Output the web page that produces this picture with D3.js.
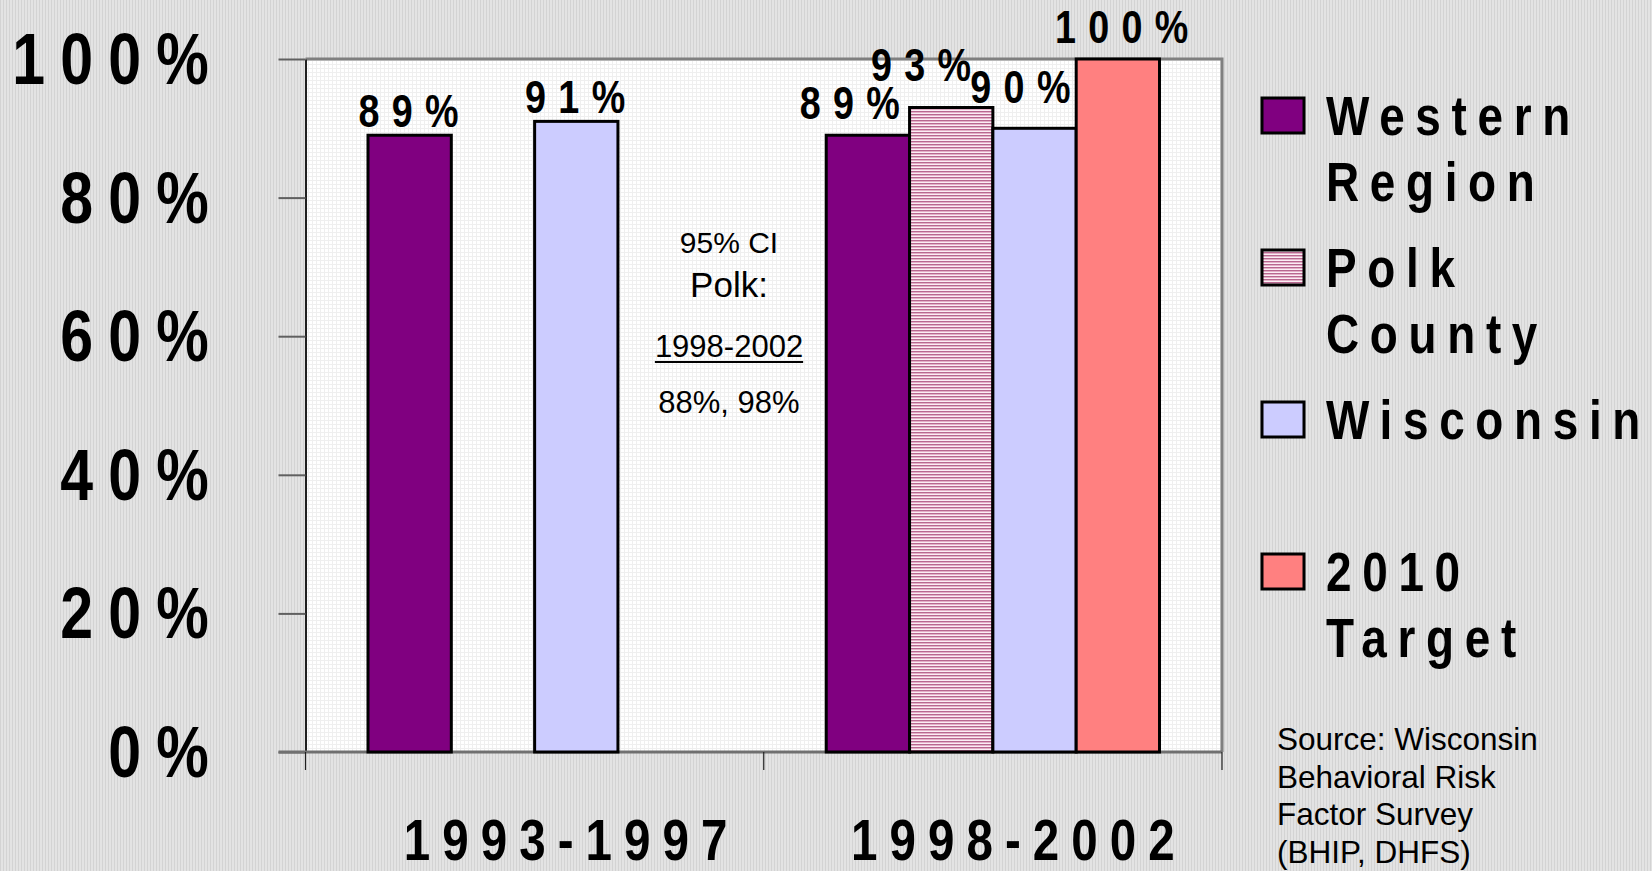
<!DOCTYPE html>
<html>
<head>
<meta charset="utf-8">
<script src="https://cdn.jsdelivr.net/npm/d3@7"></script>
<style>
  body { margin: 0; background: #e0e0e0; }
  svg { display: block; }
</style>
</head>
<body>
<script>
'use strict';

// chart data
const categories = ["1993-1997", "1998-2002"];
const seriesKeys = ["western", "polk", "wisconsin", "target"];
const westernRegion = [89, 89];
const polkCounty = [null, 93];
const wisconsin = [91, 90];
const target2010 = [null, 100];
const yTicks = [0, 20, 40, 60, 80, 100];
const legendLabels = [["Western", "Region"], ["Polk", "County"], ["Wisconsin"], ["2010", "Target"]];
const ciLines = ["95% CI", "Polk:", "1998-2002", "88%, 98%"];
const sourceLines = ["Source: Wisconsin", "Behavioral Risk", "Factor Survey", "(BHIP, DHFS)"];

const seriesValues = {western: westernRegion, polk: polkCounty, wisconsin: wisconsin, target: target2010};
const seriesFill = {western: "#800080", polk: "url(#polkStripes)", wisconsin: "#ccccff", target: "#ff8080"};
// label nudges (dx, lift) used where all four bars stand side by side
const crowdedNudge = {western: [-12, 16], polk: [-24, 27], wisconsin: [-8, 25], target: [10, 16]};
const catLabelShift = [37, 26];

const W = 1652, H = 871;
const SX = 0.82; // narrow bold look
const plot = {left: 305.5, right: 1222, top: 59, bottom: 752};

let svg = d3.select('body').append('svg')
  .attr('width', W)
  .attr('height', H)
  .style('font-family', '"Liberation Sans", Arial, sans-serif');

// patterns
let defs = svg.append('defs');
let bgPat = defs.append('pattern').attr('id', 'bgStripes')
  .attr('patternUnits', 'userSpaceOnUse').attr('width', 3).attr('height', 10);
bgPat.append('rect').attr('width', 3).attr('height', 10).attr('fill', '#e3e3e3');
bgPat.append('rect').attr('width', 1).attr('height', 10).attr('fill', '#d3d3d3');

let gridPat = defs.append('pattern').attr('id', 'plotGrid')
  .attr('patternUnits', 'userSpaceOnUse').attr('width', 4).attr('height', 4);
gridPat.append('rect').attr('width', 4).attr('height', 4).attr('fill', '#ffffff');
gridPat.append('rect').attr('width', 4).attr('height', 1).attr('fill', '#efefef');
gridPat.append('rect').attr('width', 1).attr('height', 4).attr('fill', '#efefef');

let polkPat = defs.append('pattern').attr('id', 'polkStripes')
  .attr('patternUnits', 'userSpaceOnUse').attr('width', 4).attr('height', 3);
polkPat.append('rect').attr('width', 4).attr('height', 3).attr('fill', '#fbeef4');
polkPat.append('rect').attr('width', 4).attr('height', 1).attr('fill', '#b86890');
polkPat.append('rect').attr('y', 1).attr('width', 4).attr('height', 1).attr('fill', '#e4b0c8');

svg.append('rect').attr('width', W).attr('height', H).attr('fill', 'url(#bgStripes)');

// scales
let x0 = d3.scaleBand().domain(categories).range([plot.left, plot.right]).padding(0);
let x1 = d3.scaleBand().domain(seriesKeys).range([0, x0.bandwidth()])
  .paddingInner(0).paddingOuter(0.75);
let y = d3.scaleLinear().domain([0, 100]).range([plot.bottom, plot.top]);

// plot area
svg.append('rect')
  .attr('x', plot.left).attr('y', plot.top)
  .attr('width', plot.right - plot.left).attr('height', plot.bottom - plot.top)
  .attr('fill', 'url(#plotGrid)');
svg.append('path')
  .attr('d', `M${plot.left},${plot.top}H${plot.right}V${plot.bottom}`)
  .attr('fill', 'none').attr('stroke', '#808080').attr('stroke-width', 3);

// y axis ticks
let yAxis = d3.axisLeft(y).tickValues(yTicks).tickSize(27).tickFormat('').tickSizeOuter(0);
let yg = svg.append('g').attr('transform', `translate(${plot.left},0)`).call(yAxis);
yg.select('.domain').attr('stroke', '#202020').attr('stroke-width', 2);
yg.selectAll('.tick line').attr('stroke', '#606060').attr('stroke-width', 2);

// x axis line and category boundary ticks
svg.append('line')
  .attr('x1', plot.left - 27).attr('x2', plot.right)
  .attr('y1', plot.bottom).attr('y2', plot.bottom)
  .attr('stroke', '#707070').attr('stroke-width', 3);
let bounds = categories.map(c => x0(c)).concat([x0(categories[categories.length - 1]) + x0.bandwidth()]);
svg.selectAll('.cattick').data(bounds).enter().append('line')
  .attr('x1', d => d).attr('x2', d => d)
  .attr('y1', plot.bottom).attr('y2', plot.bottom + 18)
  .attr('stroke', '#202020').attr('stroke-width', 1.2);

// helper for the wide-spaced narrow bold text
function narrowText(parent, x, yy, str, fs, ls, anchor) {
  return parent.append('text')
    .attr('transform', `translate(${x},${yy}) scale(${SX},1)`)
    .attr('font-size', fs)
    .attr('font-weight', 'bold')
    .attr('letter-spacing', ls)
    .attr('text-anchor', anchor)
    .attr('fill', '#000')
    .text(str);
}

// y tick labels
yTicks.forEach(t => {
  narrowText(svg, 224, y(t) + 25, t + '%', 72, 18.5, 'end');
});

// category labels
categories.forEach((c, i) => {
  narrowText(svg, x0(c) + x0.bandwidth() / 2 + catLabelShift[i], 860, c, 58, 14.7, 'middle');
});

// bars
let barData = [];
categories.forEach((c, i) => {
  let present = seriesKeys.filter(k => seriesValues[k][i] !== null).length;
  seriesKeys.forEach(k => {
    let v = seriesValues[k][i];
    if (v !== null) barData.push({cat: c, key: k, value: v, crowded: present === seriesKeys.length});
  });
});

svg.selectAll('.bar').data(barData).enter().append('rect')
  .attr('class', 'bar')
  .attr('x', d => x0(d.cat) + x1(d.key))
  .attr('y', d => y(d.value))
  .attr('width', x1.bandwidth())
  .attr('height', d => plot.bottom - y(d.value))
  .attr('fill', d => seriesFill[d.key])
  .attr('stroke', '#000')
  .attr('stroke-width', 3);

// value labels
barData.forEach(d => {
  let nudge = d.crowded ? crowdedNudge[d.key] : [5, 8];
  narrowText(svg, x0(d.cat) + x1(d.key) + x1.bandwidth() / 2 + nudge[0], y(d.value) - nudge[1],
    d.value + '%', 46, 15, 'middle');
});

// confidence interval note
let ciX = 729;
let ciBase = [253, 297, 357, 413];
let ciSize = [30, 35, 31, 31];
ciLines.forEach((s, i) => {
  let t = svg.append('text')
    .attr('x', ciX).attr('y', ciBase[i])
    .attr('text-anchor', 'middle')
    .attr('font-size', ciSize[i])
    .attr('fill', '#000')
    .text(s);
  if (i === 2) {
    let len = t.node().getComputedTextLength();
    svg.append('line')
      .attr('x1', ciX - len / 2).attr('x2', ciX + len / 2)
      .attr('y1', ciBase[i] + 5).attr('y2', ciBase[i] + 5)
      .attr('stroke', '#000').attr('stroke-width', 2);
  }
});

// legend
let legend = svg.append('g');
seriesKeys.forEach((k, i) => {
  let top = 98 + i * 152;
  legend.append('rect')
    .attr('x', 1262).attr('y', top)
    .attr('width', 42).attr('height', 35)
    .attr('fill', seriesFill[k])
    .attr('stroke', '#000').attr('stroke-width', 3);
  legendLabels[i].forEach((line, j) => {
    narrowText(legend, 1326, top + 37 + j * 66, line, 56, 13, 'start');
  });
});

// source note
sourceLines.forEach((s, i) => {
  svg.append('text')
    .attr('x', 1277).attr('y', 750 + i * 37.7)
    .attr('font-size', 31.5)
    .attr('fill', '#000')
    .text(s);
});
</script>
</body>
</html>
